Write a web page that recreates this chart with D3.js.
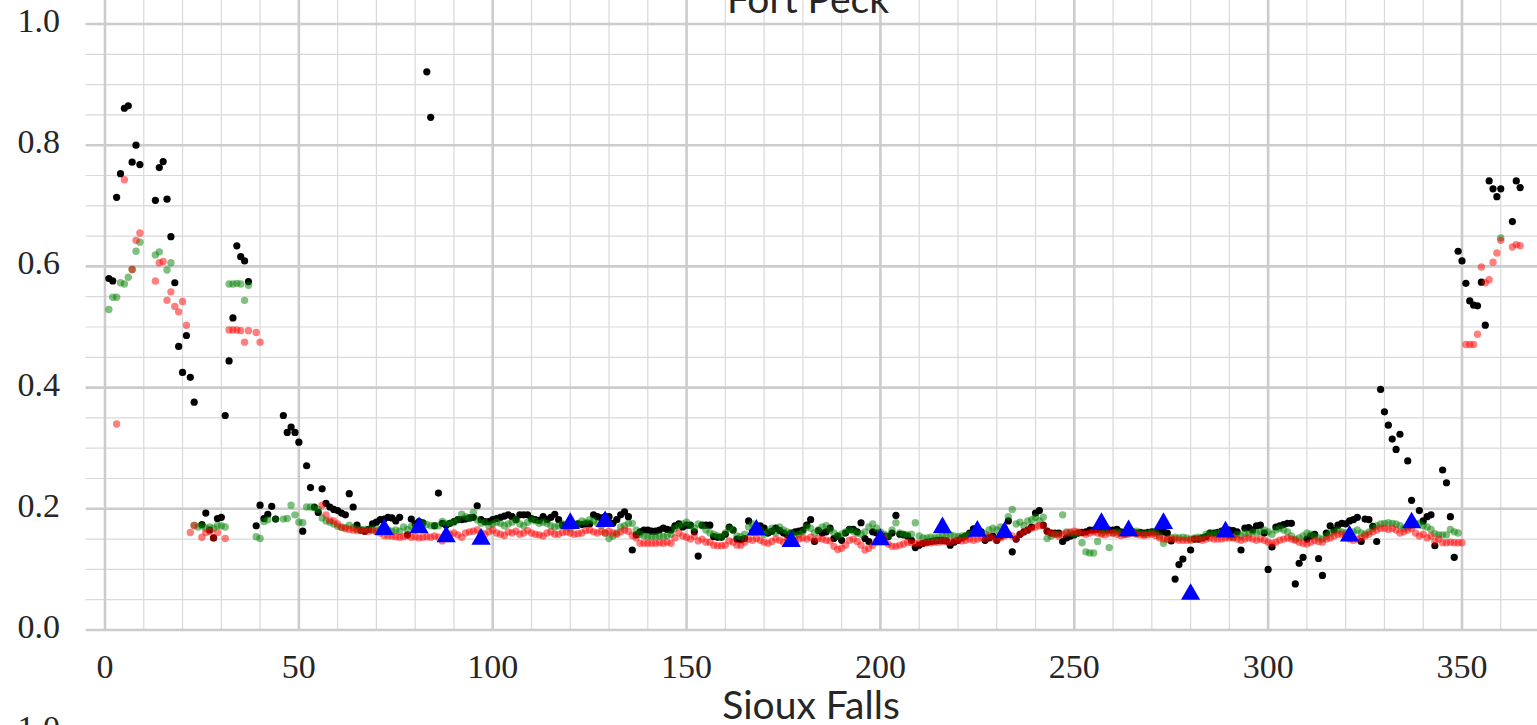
<!DOCTYPE html>
<meta charset="utf-8">
<script src="https://cdn.jsdelivr.net/npm/d3@7"></script>
<style>
    body { margin: 0; background: #fff; }
</style>
<svg width="1537" height="725"></svg>
<script>

    // values per day (index = day of year), null where nothing is plotted
    var black = [
        null,0.580,0.576,0.714,0.753,0.861,0.865,0.772,0.800,0.768,
        null,null,null,0.709,0.763,0.773,0.711,0.649,0.573,0.468,
        0.425,0.486,0.417,0.376,null,0.174,0.193,0.165,0.152,0.184,
        0.186,0.354,0.444,0.515,0.634,0.616,0.609,0.575,null,0.172,
        0.206,0.184,0.191,0.204,0.183,null,0.354,0.326,0.335,0.326,
        0.310,0.163,0.271,0.235,0.203,0.194,0.233,0.209,0.203,0.199,
        0.197,0.193,0.190,0.225,0.203,0.173,0.165,0.163,0.166,0.175,
        0.178,0.182,0.183,0.186,0.185,0.180,0.186,null,0.157,0.183,
        0.175,0.179,0.177,0.921,0.846,0.172,0.226,0.176,0.173,0.176,
        0.179,0.182,0.182,0.183,0.185,0.186,0.205,0.182,0.179,0.179,
        0.182,0.184,0.186,0.188,0.190,0.187,0.182,0.190,0.190,0.190,
        0.184,0.182,0.181,0.187,0.182,0.186,0.191,0.182,0.173,0.173,
        0.175,0.173,0.175,0.174,0.175,0.175,0.190,0.187,0.185,0.187,
        0.187,0.176,0.182,0.190,0.195,0.187,0.132,0.157,0.162,0.165,
        0.165,0.163,0.163,0.165,0.168,0.166,0.165,0.172,0.175,0.170,
        0.173,0.173,0.162,0.122,0.173,0.173,0.173,0.154,0.153,0.153,
        0.158,0.170,0.165,0.150,0.149,0.151,0.180,0.162,0.165,0.172,
        0.168,0.160,0.163,0.168,0.164,0.160,0.157,0.160,0.162,0.163,
        0.165,0.173,0.182,0.146,0.164,0.160,0.162,0.168,0.151,0.155,
        0.148,0.160,0.166,0.166,0.162,0.177,0.151,0.146,0.162,0.160,
        0.156,0.155,0.154,0.160,0.189,0.158,0.157,0.155,0.148,0.136,
        0.140,0.143,0.145,0.146,0.147,0.148,0.148,0.147,0.140,0.145,
        0.148,0.152,0.155,0.160,0.167,0.163,0.162,0.148,0.152,0.155,
        0.148,0.155,0.160,0.180,0.129,0.150,0.158,0.162,0.165,0.170,
        0.193,0.197,0.173,0.163,0.160,0.160,0.160,0.146,0.152,0.155,
        0.157,0.160,0.161,0.162,0.165,0.165,0.166,0.165,0.165,0.165,
        0.165,0.166,0.162,0.160,0.161,0.162,0.160,0.161,0.160,0.161,
        0.162,0.162,0.162,0.162,0.160,0.147,0.084,0.108,0.117,null,
        0.132,0.150,0.150,0.152,0.154,0.160,0.160,0.161,0.163,0.162,
        0.165,0.164,0.162,0.132,0.168,0.169,0.165,0.172,0.173,0.160,
        0.100,0.137,0.170,0.172,0.174,0.176,0.176,0.076,0.110,0.120,
        0.150,0.155,0.158,0.118,0.090,0.160,0.172,0.165,0.173,0.176,
        0.175,0.180,0.182,0.186,0.146,0.183,0.182,0.171,0.146,0.397,
        0.360,0.338,0.315,0.298,0.323,null,0.279,0.214,null,0.197,
        0.180,0.187,0.190,0.139,null,0.264,0.243,0.187,0.120,0.625,
        0.609,0.572,0.543,0.536,0.535,0.574,0.503,0.741,0.728,0.715,
        0.728,null,null,0.674,0.741,0.730
    ];

    var red = [
        null,null,null,0.340,null,0.743,null,0.595,0.643,0.655,
        null,null,null,0.576,0.606,0.608,0.544,0.558,0.534,0.525,
        0.542,0.503,0.161,0.172,null,0.153,0.161,0.163,0.152,0.161,
        null,0.151,0.495,0.495,0.495,0.494,0.475,0.494,null,0.491,
        0.475,null,null,null,null,null,null,null,null,null,
        null,null,null,null,null,null,0.206,0.190,0.181,0.180,
        0.175,0.170,0.167,0.166,0.165,0.164,0.164,0.163,0.163,0.164,
        0.162,0.160,0.156,0.155,0.155,0.154,0.153,0.154,0.156,0.153,
        0.154,0.152,0.153,0.154,0.153,0.155,0.153,0.147,0.153,0.158,
        0.160,0.157,0.153,0.160,0.162,0.163,0.165,0.160,0.158,0.162,
        0.165,0.160,0.158,0.156,0.162,0.160,0.163,0.158,0.160,0.164,
        0.160,0.158,0.157,0.155,0.160,0.162,0.158,0.158,0.161,0.162,
        0.160,0.158,0.159,0.160,0.164,0.165,0.162,0.160,0.163,0.160,
        0.163,0.160,0.158,0.162,0.165,0.163,0.156,0.152,0.143,0.143,
        0.143,0.143,0.143,0.144,0.143,0.145,0.143,0.152,0.160,0.155,
        0.153,0.150,0.155,0.147,0.150,0.145,0.145,0.140,0.139,0.139,
        0.140,0.147,0.145,0.140,0.140,0.145,0.150,0.148,0.151,0.148,
        0.145,0.143,0.146,0.150,0.148,0.145,0.150,0.148,0.147,0.150,
        0.152,0.150,0.153,0.148,0.151,0.150,0.148,0.147,0.138,0.133,
        0.135,0.140,0.148,0.150,0.146,0.140,0.132,0.135,0.140,0.146,
        0.148,0.152,0.142,0.138,0.138,0.140,0.142,0.145,0.144,0.143,
        0.143,0.143,0.144,0.144,0.145,0.145,0.146,0.146,0.145,0.147,
        0.148,0.147,0.148,0.150,0.148,0.150,0.152,0.150,0.155,0.152,
        0.148,0.152,0.155,0.158,0.155,0.150,0.158,0.162,0.165,0.168,
        0.170,0.172,0.172,0.163,0.160,0.158,0.155,0.158,0.160,0.162,
        0.163,0.162,0.160,0.158,0.160,0.162,0.160,0.158,0.157,0.160,
        0.160,0.158,0.156,0.157,0.158,0.160,0.158,0.157,0.156,0.157,
        0.158,0.156,0.152,0.150,0.150,0.150,0.150,0.148,0.148,0.148,
        0.148,0.150,0.150,0.148,0.150,0.152,0.150,0.150,0.150,0.152,
        0.152,0.153,0.150,0.148,0.150,0.152,0.150,0.148,0.150,0.148,
        0.145,0.143,0.145,0.148,0.150,0.152,0.150,0.148,0.145,0.143,
        0.142,0.145,0.148,0.146,0.145,0.150,0.152,0.155,0.158,0.158,
        0.155,0.150,0.148,0.150,0.152,0.155,0.158,0.162,0.165,0.168,
        0.168,0.166,0.168,0.165,0.160,0.162,0.165,0.168,0.160,0.155,
        0.158,0.152,0.155,0.146,0.150,0.144,0.144,0.145,0.144,0.144,
        0.144,0.471,0.471,0.471,0.488,0.599,0.573,0.578,0.607,0.622,
        0.643,null,null,0.632,0.636,0.634
    ];

    var green = [
        null,0.529,0.549,0.549,0.573,0.571,0.582,0.595,0.625,0.640,
        null,null,null,0.619,0.624,null,0.594,0.606,null,null,
        null,null,null,0.173,0.170,0.172,0.168,0.170,0.168,0.172,
        0.172,0.170,0.571,0.571,0.572,0.571,0.544,0.569,null,0.154,
        0.151,0.179,0.182,null,0.183,null,0.183,0.184,0.206,0.190,
        0.178,0.177,0.203,0.203,0.202,0.199,0.185,0.180,0.178,0.175,
        0.171,0.169,0.169,0.173,0.169,0.166,0.165,0.166,0.166,0.166,
        0.165,0.166,0.165,0.165,0.163,0.165,0.163,0.170,0.166,0.171,
        0.168,0.172,0.176,0.174,0.172,0.172,0.172,0.179,0.176,0.176,
        0.178,0.182,0.191,0.187,0.184,0.194,0.182,0.176,0.178,0.172,
        0.175,0.178,0.176,0.172,0.175,0.178,0.182,0.175,0.172,0.178,
        0.182,0.180,0.176,0.178,0.176,0.172,0.170,0.172,0.175,0.170,
        0.168,0.172,0.176,0.180,0.178,0.182,0.180,0.176,0.172,0.160,
        0.151,0.155,0.160,0.170,0.172,0.176,0.176,0.165,0.158,0.155,
        0.154,0.154,0.154,0.155,0.154,0.156,0.158,0.168,0.172,0.175,
        0.178,0.172,0.168,0.175,0.172,0.165,0.160,0.158,0.155,0.154,
        0.160,0.168,0.165,0.155,0.154,0.158,0.170,0.175,0.172,0.165,
        0.158,0.162,0.168,0.160,0.170,0.165,0.162,0.160,0.155,0.158,
        0.162,0.170,0.168,0.160,0.165,0.170,0.172,0.165,0.160,0.155,
        0.158,0.162,0.165,0.163,0.160,0.158,0.162,0.170,0.175,0.168,
        0.162,0.158,0.155,0.165,0.177,0.160,0.158,0.157,0.158,0.177,
        0.155,0.152,0.152,0.153,0.152,0.153,0.155,0.155,0.157,0.155,
        0.154,0.155,0.156,0.158,0.160,0.162,0.160,0.158,0.165,0.168,
        0.165,0.170,0.168,0.187,0.199,0.175,0.178,0.172,0.180,0.182,
        0.186,0.180,0.186,0.151,0.155,0.158,0.158,0.190,0.162,0.160,
        0.158,0.160,0.144,0.129,0.127,0.127,0.146,0.160,0.162,0.136,
        0.160,0.162,0.160,0.158,0.160,0.162,0.163,0.160,0.158,0.160,
        0.162,0.160,0.155,0.143,0.150,0.152,0.153,0.152,0.153,0.152,
        0.150,0.152,0.153,0.152,0.158,0.160,0.158,0.160,0.162,0.160,
        0.155,0.152,0.158,0.155,0.160,0.158,0.162,0.160,0.162,0.165,
        0.162,0.158,0.165,0.168,0.165,0.162,0.155,0.150,0.152,0.155,
        0.160,0.158,0.155,0.152,0.150,0.155,0.160,0.162,0.165,0.162,
        0.160,0.158,0.162,0.165,0.160,0.158,0.162,0.168,0.172,0.175,
        0.176,0.177,0.176,0.175,0.172,0.168,0.170,0.173,0.175,0.176,
        0.172,0.170,0.166,0.159,0.157,0.157,0.157,0.166,0.162,0.160,
        null,null,null,null,null,null,null,null,null,null,
        0.647,null,null,null,null,null
    ];

    var triDays = [72, 81, 88, 97, 120, 129, 168, 177, 200, 216, 225, 232, 257, 264, 273, 280, 289, 321, 337];
    var triValues = [0.166, 0.169, 0.154, 0.150, 0.176, 0.179, 0.165, 0.146, 0.149, 0.169, 0.163, 0.161,
        0.176, 0.164, 0.176, 0.059, 0.162, 0.155, 0.177];

    var xTicks = [0, 50, 100, 150, 200, 250, 300, 350];
    var yTicks = [0.0, 0.2, 0.4, 0.6, 0.8, 1.0];

    var tickFont = "'Liberation Serif', 'DejaVu Serif', serif";
    var titleFont = "Lato, 'Open Sans', sans-serif";

    var svg = d3.select("svg");

    var x = d3.scaleLinear().domain([0, 350]).range([105, 1462]);
    var y = d3.scaleLinear().domain([0, 1]).range([630, 24]);

    var left = x(-5), right = x(373), top = y(1), bottom = y(0);

    // minor grid
    var grid = svg.append("g");
    grid.selectAll("line.xminor")
        .data(d3.range(0, 371, 10).filter(function (d) { return d % 50 !== 0; }))
        .enter().append("line")
        .attr("x1", function (d) { return x(d); }).attr("x2", function (d) { return x(d); })
        .attr("y1", top).attr("y2", bottom)
        .attr("stroke", "#d9d9d9").attr("stroke-width", 1.2);
    grid.selectAll("line.yminor")
        .data(d3.range(1, 20).map(function (i) { return i * 0.05; }).filter(function (d, i) { return (i + 1) % 4 !== 0; }))
        .enter().append("line")
        .attr("x1", left).attr("x2", right)
        .attr("y1", function (d) { return y(d); }).attr("y2", function (d) { return y(d); })
        .attr("stroke", "#d9d9d9").attr("stroke-width", 1.2);

    // major grid
    grid.selectAll("line.xmajor")
        .data(xTicks)
        .enter().append("line")
        .attr("x1", function (d) { return x(d); }).attr("x2", function (d) { return x(d); })
        .attr("y1", top).attr("y2", bottom)
        .attr("stroke", "#cccccc").attr("stroke-width", 2.6);
    grid.selectAll("line.ymajor")
        .data(yTicks)
        .enter().append("line")
        .attr("x1", left).attr("x2", right)
        .attr("y1", function (d) { return y(d); }).attr("y2", function (d) { return y(d); })
        .attr("stroke", "#cccccc").attr("stroke-width", 2.6);

    // frame
    svg.append("rect")
        .attr("x", left).attr("y", top)
        .attr("width", right - left).attr("height", bottom - top)
        .attr("fill", "none").attr("stroke", "#cccccc").attr("stroke-width", 2);

    function pts(arr) {
        return arr.map(function (v, i) { return {d: i, v: v}; })
            .filter(function (p) { return p.v !== null; });
    }

    svg.append("g").selectAll("circle")
        .data(pts(black)).enter().append("circle")
        .attr("cx", function (p) { return x(p.d); })
        .attr("cy", function (p) { return y(p.v); })
        .attr("r", 3.6)
        .attr("fill", "#000");

    svg.append("g").selectAll("circle")
        .data(pts(green)).enter().append("circle")
        .attr("cx", function (p) { return x(p.d); })
        .attr("cy", function (p) { return y(p.v); })
        .attr("r", 3.7)
        .attr("fill", "#008000").attr("fill-opacity", 0.5);

    svg.append("g").selectAll("circle")
        .data(pts(red)).enter().append("circle")
        .attr("cx", function (p) { return x(p.d); })
        .attr("cy", function (p) { return y(p.v); })
        .attr("r", 3.7)
        .attr("fill", "#ff0000").attr("fill-opacity", 0.5);

    var tri = d3.symbol().type(d3.symbolTriangle).size(160);
    svg.append("g").selectAll("path")
        .data(triDays).enter().append("path")
        .attr("d", tri)
        .attr("transform", function (d, i) { return "translate(" + x(d) + "," + y(triValues[i]) + ")"; })
        .attr("fill", "#0000ff");

    // tick labels
    svg.append("g").selectAll("text")
        .data(xTicks).enter().append("text")
        .attr("x", function (d) { return x(d); })
        .attr("y", 678)
        .attr("text-anchor", "middle")
        .style("font-family", tickFont).style("font-size", "34px").style("fill", "#262626")
        .text(function (d) { return d; });

    svg.append("g").selectAll("text")
        .data(yTicks).enter().append("text")
        .attr("x", 60)
        .attr("y", function (d) { return y(d) + 8; })
        .attr("text-anchor", "end")
        .style("font-family", tickFont).style("font-size", "34px").style("fill", "#262626")
        .text(function (d) { return d.toFixed(1); });

    // next panel's top tick, cut by the window
    svg.append("text")
        .attr("x", 60).attr("y", 739).attr("text-anchor", "end")
        .style("font-family", tickFont).style("font-size", "34px").style("fill", "#262626")
        .text("1.0");

    svg.append("text")
        .attr("x", 808).attr("y", 13).attr("text-anchor", "middle")
        .style("font-family", titleFont).style("font-size", "39px").style("fill", "#262626")
        .text("Fort Peck");
    svg.append("text")
        .attr("x", 811).attr("y", 719).attr("text-anchor", "middle")
        .style("font-family", titleFont).style("font-size", "39px").style("fill", "#262626")
        .text("Sioux Falls");

</script>
